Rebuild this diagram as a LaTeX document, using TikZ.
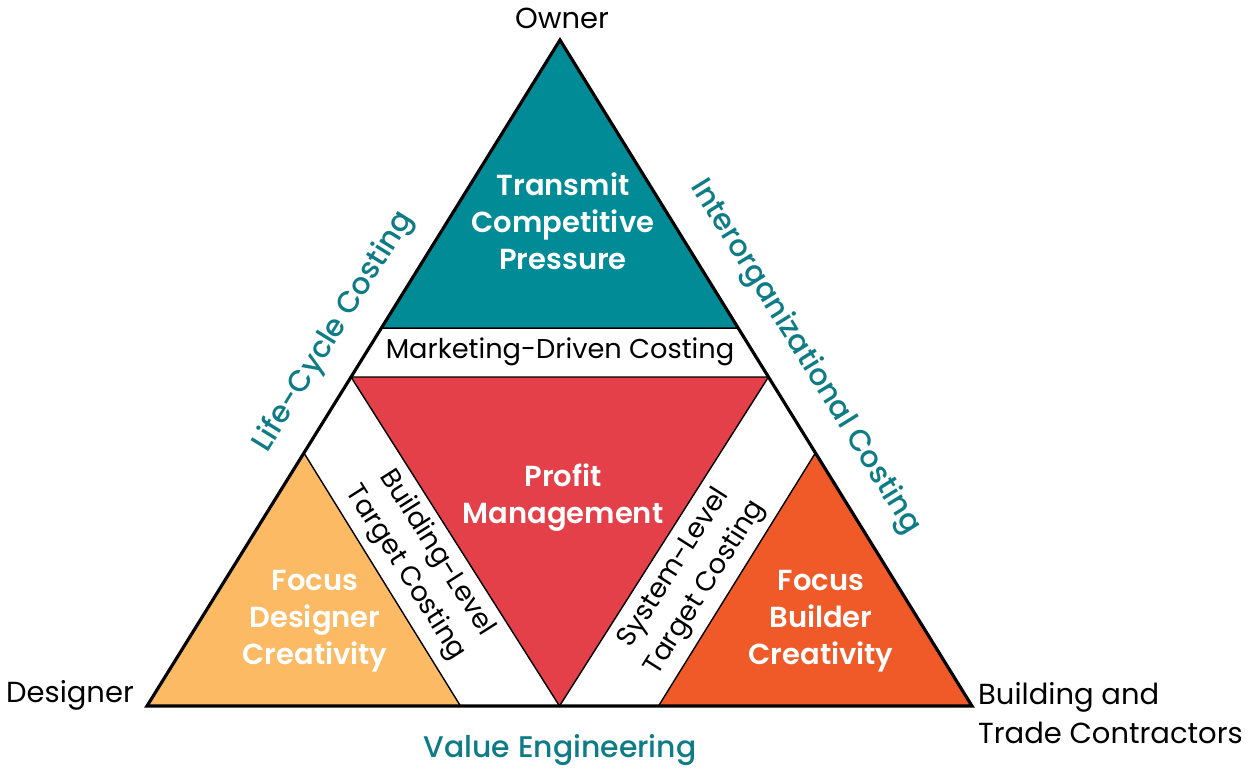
\documentclass[tikz,border=0pt]{standalone}
\usepackage{fontspec}
\setmainfont{Poppins}
\newfontfamily\semib{Poppins SemiBold}
\newfontfamily\medium{Poppins Medium}
\usetikzlibrary{calc}

\definecolor{tealfill}{HTML}{008B96}
\definecolor{redfill}{HTML}{E3404A}
\definecolor{lightorange}{HTML}{FBBA63}
\definecolor{darkorange}{HTML}{F05A28}
\definecolor{tealtext}{HTML}{0E7C86}

\tikzset{
  piece/.style={draw=black, line width=0.8pt, line join=miter},
  inner/.style={text=white, font=\semib\fontsize{16.5}{21}\selectfont, align=center},
  band/.style={font=\fontsize{15.5}{21}\selectfont, align=center},
  side/.style={text=tealtext, font=\medium\fontsize{17}{20}\selectfont},
  corner/.style={font=\fontsize{16.5}{22}\selectfont, align=left}
}

\begin{document}
\begin{tikzpicture}[x=0.02cm, y=-0.02cm]
            \useasboundingbox (0,0) rectangle (1249,772);
            % Outer corners
            \coordinate (owner) at (560,40);
            \coordinate (designer) at (147,706);
            \coordinate (builder) at (972,706);
            \fill[white] (owner) -- (designer) -- (builder) -- cycle;

            % Top
            \filldraw[piece, fill=tealfill] (owner) -- ($(owner)!0.4325!(designer)$) -- ($(owner)!0.4325!(builder)$) -- cycle;
            % Middle
            \filldraw[piece, fill=redfill] ($(owner)!0.506!(designer)$) -- ($(owner)!0.506!(builder)$) -- ($(designer)!0.5!(builder)$) -- cycle;
            % Left
            \filldraw[piece, fill=lightorange] (designer) -- ($(designer)!0.38!(owner)$) -- ($(designer)!0.38!(builder)$) -- cycle;
            % Right
            \filldraw[piece, fill=darkorange] (builder) -- ($(builder)!0.38!(owner)$) -- ($(builder)!0.38!(designer)$) -- cycle;

            \draw[line width=1.8pt, line join=miter] (owner) -- (designer) -- (builder) -- cycle;

            % Inner labels
            \node[inner] (transmit) at (563,221) {Transmit\\Competitive\\Pressure};
            \node[band] (marketing) at (560,352) {Marketing-Driven Costing};
            \node[inner] (profit) at (563,498) {Profit\\Management};
            \node[band, rotate=-57.6] (buildinglevel) at (421,563) {Building-Level\\Target Costing};
            \node[band, rotate=57.6] (systemlevel) at (690,578) {System-Level\\Target Costing};
            \node[inner] (focusdesigner) at (315,621) {Focus\\Designer\\Creativity};
            \node[inner] (focusbuilder) at (821,621) {Focus\\Builder\\Creativity};

            % Sides
            \node[side, rotate=58.2] (lifecycle) at (334,332) {Life-Cycle Costing};
            \node[side, rotate=-58.2] (interorg) at (805,357) {Interorganizational Costing};
            \node[side] (valueeng) at (560,750) {Value Engineering};

            % Corners
            \node[corner] (ownerlabel) at (562,18) {Owner};
            \node[corner] (designerlabel) at (70,695) {Designer};
            \node[corner, anchor=west] (builderlabel) at (972,713) {Building and\\Trade Contractors};
        \end{tikzpicture}
\end{document}
